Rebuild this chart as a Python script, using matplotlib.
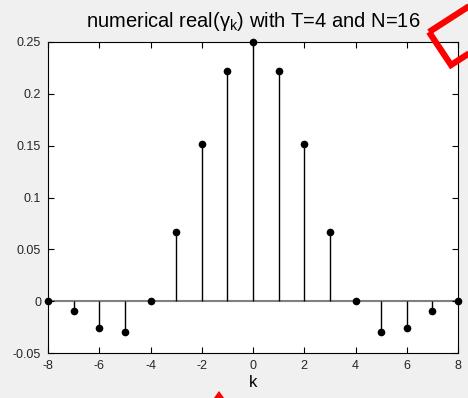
import matplotlib
matplotlib.use("Agg")
import matplotlib.pyplot as plt
from matplotlib.patches import Polygon
import numpy as np

k = [-8, -7, -6, -5, -4, -3, -2, -1, 0, 1, 2, 3, 4, 5, 6, 7, 8]
gamma_real = [0.0, -0.0091, -0.0260, -0.0296, 0.0, 0.0663, 0.1513, 0.2223, 0.25,
              0.2223, 0.1513, 0.0663, 0.0, -0.0296, -0.0260, -0.0091, 0.0]
xticks = [-8, -6, -4, -2, 0, 2, 4, 6, 8]
yticks = [-0.05, 0, 0.05, 0.1, 0.15, 0.2, 0.25]
yticklabels = ["-0.05", "0", "0.05", "0.1", "0.15", "0.2", "0.25"]

plt.rcParams['font.family'] = ['Liberation Sans', 'DejaVu Sans']
plt.rcParams['axes.unicode_minus'] = False
plt.rcParams['mathtext.fontset'] = 'custom'
plt.rcParams['mathtext.rm'] = 'Liberation Sans'
plt.rcParams['mathtext.it'] = 'Liberation Sans:italic'

W, H = 468, 398
fig = plt.figure(figsize=(W / 100, H / 100), dpi=100, facecolor='#f0f0f0')
ax = fig.add_axes([48 / W, 1 - 353 / H, (458 - 48) / W, (353 - 42) / H])
ax.set_facecolor('white')

ax.axhline(0, color='#808080', lw=1.5, zorder=1)
ax.vlines(k, 0, gamma_real, color='black', lw=1.0, zorder=2)
ax.plot(k, gamma_real, 'o', color='black', ms=4.5, zorder=3, clip_on=False)

ax.set_xlim(-8, 8)
ax.set_ylim(-0.05, 0.25)
ax.set_xticks(xticks)
ax.set_yticks(yticks)
ax.set_yticklabels(yticklabels)
ax.tick_params(direction='in', top=True, right=True, length=4, width=0.8,
               labelsize=9, colors='black', labelcolor='#262626', pad=5)
for s in ax.spines.values():
    s.set_linewidth(0.8)
    s.set_color('black')

ax.set_title("numerical real(γ$_\\mathrm{k}$) with T=4 and N=16", fontsize=14.5, pad=11)
ax.set_xlabel("k", fontsize=12, labelpad=2)

# red annotation shapes
sq = Polygon([[429 / W, 1 - 32 / H], [451 / W, 1 - 65 / H], [510 / W, 1 - 27 / H], [488 / W, 1 + 6 / H]],
             closed=True, fill=False, edgecolor='red', lw=4.5, transform=fig.transFigure, clip_on=False)
fig.patches.append(sq)
tri = Polygon([[219 / W, 1 - 391 / H], [211 / W, 1 - 402 / H], [227 / W, 1 - 402 / H]],
              closed=True, facecolor='red', edgecolor='none', transform=fig.transFigure)
fig.patches.append(tri)

fig.savefig("out.png", dpi=100, facecolor=fig.get_facecolor())
